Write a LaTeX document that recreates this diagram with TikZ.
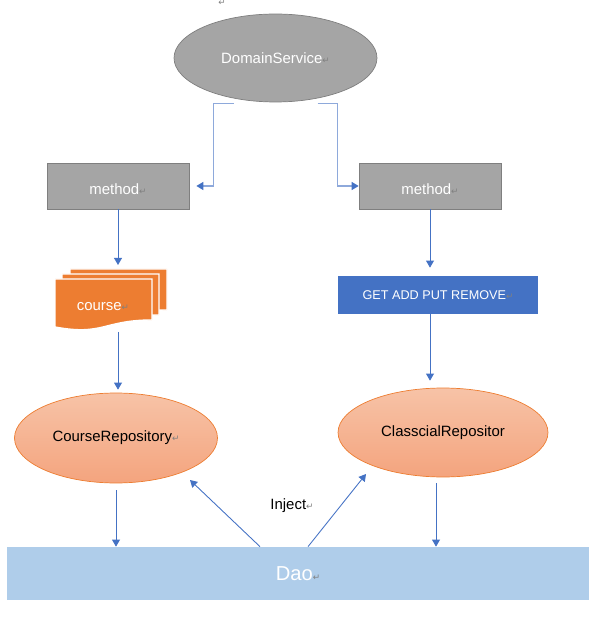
\documentclass[tikz,border=0pt]{standalone}
\usepackage{fontspec}
\setmainfont{Liberation Sans}
\newfontfamily\dejavu{DejaVu Sans}
\usetikzlibrary{arrows.meta,shapes.geometric,positioning,calc}
\definecolor{svcgray}{HTML}{A5A5A5}
\definecolor{svcedge}{HTML}{7F7F7F}
\definecolor{crsorange}{HTML}{ED7D31}
\definecolor{repotop}{HTML}{F7C3A7}
\definecolor{repobot}{HTML}{F4A47E}
\definecolor{opblue}{HTML}{4472C4}
\definecolor{daoblue}{HTML}{AFCDEA}
\definecolor{lnblue}{HTML}{4472C4}
\definecolor{elbblue}{HTML}{8EA9DB}
\newcommand{\retmark}{{\dejavu\fontsize{5}{5}\selectfont\textcolor{gray}{↵}}}

\begin{document}
\begin{tikzpicture}[x=0.02cm, y=-0.02cm,
    svc/.style={ellipse, draw=svcedge, fill=svcgray, text=white, minimum width=4.06cm, minimum height=1.76cm, inner sep=0pt, font=\fontsize{8.5}{10}\selectfont},
    meth/.style={draw=svcedge, fill=svcgray, text=white, minimum width=2.84cm, minimum height=0.92cm, inner sep=0pt, text height=9.4pt, text depth=0pt, font=\fontsize{8.5}{10}\selectfont},
    repo/.style={ellipse, draw=crsorange, top color=repotop, bottom color=repobot, inner sep=0pt, font=\fontsize{8.5}{10}\selectfont},
    ops/.style={fill=opblue, text=white, minimum width=4cm, minimum height=0.76cm, inner sep=0pt, font=\fontsize{7.2}{9}\selectfont},
    dao/.style={fill=daoblue, text=white, minimum width=11.64cm, minimum height=1.06cm, inner sep=0pt, font=\fontsize{11.5}{13}\selectfont},
    arr/.style={-{Triangle[length=4pt,width=4.5pt]}, lnblue, line width=0.5pt},
    elb/.style={-{Triangle[length=4pt,width=4.5pt,color=lnblue]}, elbblue, line width=0.9pt},
    lbl/.style={font=\fontsize{8.5}{10}\selectfont, inner sep=0pt}
]
\useasboundingbox (0,0) rectangle (596,617);

\node[inner sep=0pt] (topmark) at (222,3) {\retmark};
\node[svc] (ds) at (275.5,58) {DomainService\retmark};
\node[meth] (m1) at (118,186) {method\retmark};
\node[meth] (m2) at (430,186) {method\retmark};
\node[ops] (ops) at (438,295) {GET ADD PUT REMOVE\retmark};

% stacked course documents
\foreach \dx/\dy in {15/-10, 7/-5, 0/0}
  \draw[fill=crsorange, draw=white, line width=0.8pt, shift={(\dx,\dy)}]
    (55,279) -- (152,279) -- (152,320) .. controls (103.5,320) and (103.5,336) .. (55,327) -- cycle;
\node[lbl, text=white] (course) at (103,307) {course\retmark};
\coordinate (crs-top) at (118,265);
\coordinate (crs-bot) at (118,332);

\node[repo, minimum width=4.06cm, minimum height=1.8cm] (crepo) at (116,438) {CourseRepository\retmark};
\node[repo, minimum width=4.2cm, minimum height=1.78cm] (clrepo) at (443,432.5) {ClasscialRepositor};
\node[dao] (dao) at (298,573.5) {Dao\retmark};
\node[lbl] (inject) at (292,506) {Inject\retmark};

\draw[elb, shorten >=0.14cm] ($(ds.south)+(-42,1)$) -- ++(-20,0) |- (m1.east);
\draw[elb] ($(ds.south)+(42,1)$) -- ++(20,0) |- (m2.west);

\draw[arr] (m1.south) -- (crs-top);
\draw[arr, shorten >=0.06cm] (crs-bot) -- (crepo.north -| crs-bot);
\draw[arr, shorten >=0.16cm] (m2.south) -- (m2.south |- ops.north);
\draw[arr, shorten >=0.14cm] (m2.south |- ops.south) -- (m2.south |- clrepo.north);
\draw[arr, shorten <=0.14cm] (crepo.south) -- (crepo.south |- dao.north);
\draw[arr, shorten <=0.12cm] ([xshift=-0.14cm]clrepo.south) -- ([xshift=-0.14cm]clrepo.south |- dao.north);
\draw[arr] ($(dao.north)+(-38,0)$) -- ($(crepo.center)+(74,42)$);
\draw[arr] ($(dao.north)+(10,0)$) -- ($(clrepo.center)+(-77,41.5)$);
\end{tikzpicture}
\end{document}
